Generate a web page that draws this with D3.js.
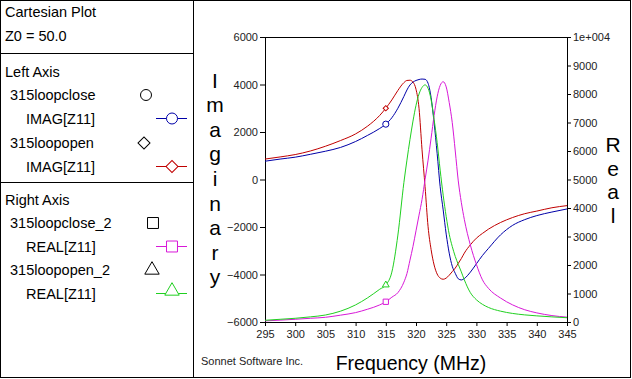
<!DOCTYPE html>
<html>
<head>
<meta charset="utf-8">
<script src="https://cdn.jsdelivr.net/npm/d3@7"></script>
<style>
  body { margin:0; background:#fff; }
  svg { display:block; font-family:"Liberation Sans", Arial, sans-serif; }
</style>
</head>
<body>
<div id="chart"></div>
<script>
// Sonnet cartesian plot: IMAG (left) and REAL (right) of Z11 vs frequency
const freq = [295, 297.5, 300, 302.5, 305, 307.5, 310, 312, 314, 315, 316, 317, 318, 318.5, 319, 319.5, 320, 320.5, 321, 321.5,
  322, 322.5, 323, 323.5, 324, 324.5, 325, 325.5, 326, 326.5, 327, 327.5, 328, 329, 330, 331, 332, 334, 336, 338, 340, 342.5, 345];

// left axis (imaginary)
const imagClose = [770, 860, 940, 1060, 1190, 1350, 1600, 1860, 2150, 2330, 2600, 3000, 3500, 3770, 3980, 4100, 4170, 4210, 4230, 4220,
  4050, 3450, 2380, 1100, -300, -1280, -2300, -3100, -3650, -3950, -4180, -4230, -4170, -3900, -3550, -3200, -2900, -2330, -1930, -1690, -1520, -1370, -1240];
const imagOpen = [860, 950, 1050, 1200, 1400, 1640, 1920, 2250, 2700, 3000, 3350, 3750, 4080, 4170, 4180, 4100, 3800, 3000, 1250, -300,
  -1990, -2950, -3600, -3980, -4150, -4200, -4150, -4030, -3880, -3730, -3530, -3330, -3100, -2750, -2470, -2270, -2090, -1810, -1600, -1440, -1330, -1190, -1100];
// right axis (real)
const realClose = [40, 65, 95, 130, 165, 240, 330, 450, 600, 710, 870, 1030, 1400, 1700, 2170, 2650, 3200, 3750, 4300, 5000,
  5680, 6450, 7250, 7900, 8300, 8430, 8250, 7700, 7000, 6000, 4950, 4200, 3600, 2700, 2020, 1480, 1180, 840, 600, 430, 320, 225, 170];
const realOpen = [60, 95, 130, 180, 245, 380, 600, 850, 1150, 1300, 1750, 3050, 4900, 5680, 6400, 7050, 7600, 8000, 8230, 8320,
  8200, 7800, 7100, 6300, 5330, 4450, 3700, 3080, 2650, 2300, 2020, 1760, 1480, 1030, 780, 620, 510, 380, 300, 250, 215, 180, 150];

const xTicks = [295, 300, 305, 310, 315, 320, 325, 330, 335, 340, 345];
const leftTicks = [-6000, -4000, -2000, 0, 2000, 4000, 6000];
const rightTicks = [0, 1000, 2000, 3000, 4000, 5000, 6000, 7000, 8000, 9000, 10000];
const markerFreq = 315;

const series = [
  {name:'315loopclose', label:'IMAG[Z11]', values:imagClose, axis:'left', color:'#0000a8', symbol:'circle'},
  {name:'315loopopen', label:'IMAG[Z11]', values:imagOpen, axis:'left', color:'#c00000', symbol:'diamond'},
  {name:'315loopclose_2', label:'REAL[Z11]', values:realClose, axis:'right', color:'#d818d8', symbol:'square'},
  {name:'315loopopen_2', label:'REAL[Z11]', values:realOpen, axis:'right', color:'#20d020', symbol:'triangle'}
];

const W = 632, H = 379;
const svg = d3.select('#chart').append('svg').attr('width', W).attr('height', H);

// frames
svg.append('rect').attr('x',0.5).attr('y',0.5).attr('width',630).attr('height',377)
  .attr('fill','none').attr('stroke','#000');
svg.append('line').attr('x1',193.5).attr('x2',193.5).attr('y1',0).attr('y2',378).attr('stroke','#000');
[53.5, 182.5].forEach(y => svg.append('line').attr('x1',0).attr('x2',193).attr('y1',y).attr('y2',y).attr('stroke','#000'));

// legend panel
const leg = svg.append('g').attr('font-size','14.5px').attr('fill','#000');
leg.append('text').attr('x',5).attr('y',17).text('Cartesian Plot');
leg.append('text').attr('x',5).attr('y',41).text('Z0 = 50.0');
leg.append('text').attr('x',5).attr('y',77).text('Left Axis');
leg.append('text').attr('x',5).attr('y',205).text('Right Axis');

// diamond = square turned 45 degrees
function symbolPath(sym, size){
  const t = {circle:d3.symbolCircle, diamond:d3.symbolSquare, square:d3.symbolSquare, triangle:d3.symbolTriangle}[sym];
  return d3.symbol(t, size)();
}
const rot = sym => sym === 'diamond' ? ' rotate(45)' : '';

const legendRows = [{y:100, ly:124}, {y:148, ly:172}, {y:228, ly:252}, {y:275, ly:299}];
series.forEach((s,i) => {
  const r = legendRows[i];
  leg.append('text').attr('x',10).attr('y',r.y).text(s.name);
  leg.append('text').attr('x',26).attr('y',r.ly).text(s.label);
  const symX = s.symbol === 'circle' ? 146 : s.symbol === 'square' ? 153 : s.symbol === 'triangle' ? 152 : 144;
  const big = {circle:95, diamond:72, square:120, triangle:90}[s.symbol];
  leg.append('path').attr('d', symbolPath(s.symbol, big))
    .attr('transform',`translate(${symX},${r.y-5})${rot(s.symbol)}`).attr('fill','none').attr('stroke','#000');
  const lineY = r.ly - 6;
  leg.append('line').attr('x1',156).attr('x2',187).attr('y1',lineY+0.5).attr('y2',lineY+0.5).attr('stroke',s.color);
  leg.append('path').attr('d', symbolPath(s.symbol, big))
    .attr('transform',`translate(172,${lineY + (s.symbol==='triangle' ? -2 : 0.5)})${rot(s.symbol)}`)
    .attr('fill','#fff').attr('stroke',s.color);
});

// plot area
const x = d3.scaleLinear().domain([295,345]).range([265,567]);
const yL = d3.scaleLinear().domain([-6000,6000]).range([322,37]);
const yR = d3.scaleLinear().domain([0,10000]).range([322,37]);

const axFont = g => g.attr('font-family','"Liberation Sans", Arial, sans-serif').attr('font-size','11px');

svg.append('g').attr('transform','translate(0,322)')
  .call(d3.axisBottom(x).tickValues(xTicks).tickSize(4).tickSizeOuter(0).tickPadding(4))
  .call(axFont).call(g => g.selectAll('text').attr('fill','#222'));
svg.append('g').attr('transform','translate(265,0)')
  .call(d3.axisLeft(yL).tickValues(leftTicks).tickSize(5).tickSizeOuter(0).tickPadding(2).tickFormat(d3.format('d')))
  .call(axFont).call(g => g.selectAll('text').attr('fill','#222'));
svg.append('g').attr('transform','translate(567,0)')
  .call(d3.axisRight(yR).tickValues(rightTicks).tickSize(4).tickSizeOuter(0).tickPadding(2)
    .tickFormat(d => d >= 10000 ? '1e+004' : d))
  .call(axFont).call(g => g.selectAll('text').attr('fill','#222'));
svg.append('line').attr('x1',265).attr('x2',567).attr('y1',37.5).attr('y2',37.5).attr('stroke','#000');

// curves
const mi = freq.indexOf(markerFreq);
series.forEach(s => {
  const yS = s.axis === 'left' ? yL : yR;
  const pts = freq.map((f,i) => [f, s.values[i]]);
  const line = d3.line().x(d => x(d[0])).y(d => yS(d[1])).curve(d3.curveMonotoneX);
  svg.append('path').datum(pts).attr('d', line).attr('fill','none').attr('stroke', s.color).attr('stroke-width',1);
  const small = {circle:30, diamond:14, square:28, triangle:20}[s.symbol];
  svg.append('path').attr('d', symbolPath(s.symbol, small))
    .attr('transform',`translate(${x(freq[mi])},${yS(s.values[mi])})${rot(s.symbol)}`)
    .attr('fill','#fff').attr('stroke', s.color);
});

// axis titles
const imag = 'Imaginary'.split('');
svg.append('g').attr('font-size','21px').attr('text-anchor','middle').selectAll('text').data(imag).enter()
  .append('text').attr('x',215).attr('y',(d,i) => 87.5 + i*24.6).text(d => d);
const real = 'Real'.split('');
svg.append('g').attr('font-size','21px').attr('text-anchor','middle').selectAll('text').data(real).enter()
  .append('text').attr('x',613).attr('y',(d,i) => 152 + i*23.5).text(d => d);

svg.append('text').attr('x',411).attr('y',370).attr('text-anchor','middle').attr('font-size','19.5px').text('Frequency (MHz)');
svg.append('text').attr('x',201).attr('y',365).attr('font-size','11px').attr('fill','#222').text('Sonnet Software Inc.');
</script>
</body>
</html>
